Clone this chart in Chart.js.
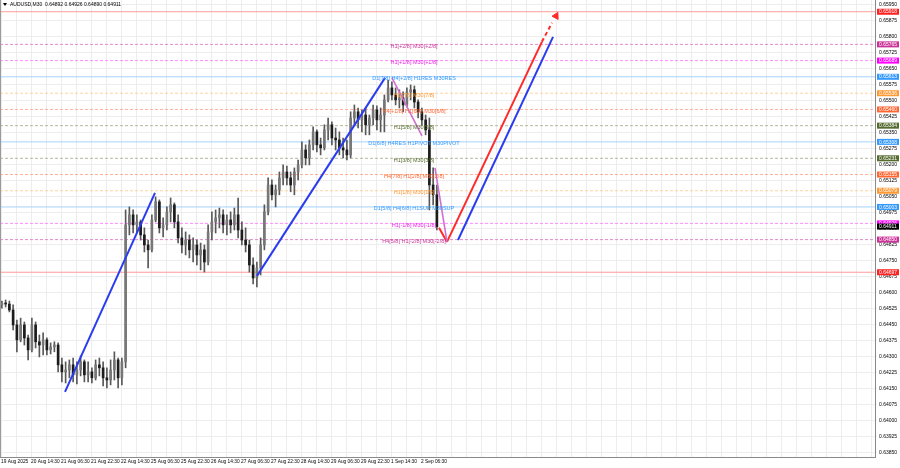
<!DOCTYPE html>
<html><head><meta charset="utf-8">
<script src="https://cdn.jsdelivr.net/npm/chart.js@4.4.1/dist/chart.umd.min.js"></script>
<style>html,body{margin:0;padding:0;background:#fff;}#wrap{width:900px;height:468px;position:relative;}</style>
</head><body><div id="wrap"><canvas id="c" width="900" height="468"></canvas></div>
<script>
const symbolTitle = 'AUDUSD,M30  0.64892 0.64926 0.64890 0.64911';
const timeLabels = ['19 Aug 2025','20 Aug 14:30','21 Aug 06:30','21 Aug 22:30','22 Aug 14:30','25 Aug 06:30','25 Aug 22:30','26 Aug 14:30','27 Aug 06:30','27 Aug 22:30','28 Aug 14:30','29 Aug 06:30','29 Aug 22:30','1 Sep 14:30','2 Sep 06:30'];
const priceTicks = [0.63850,0.63925,0.64000,0.64075,0.64150,0.64225,0.64300,0.64375,0.64450,0.64525,0.64600,0.64675,0.64750,0.64825,0.64900,0.64975,0.65050,0.65125,0.65200,0.65275,0.65350,0.65425,0.65500,0.65575,0.65650,0.65725,0.65800,0.65875,0.65950];

const opens = [0.64544,0.64553,0.64548,0.64520,0.64450,0.64380,0.64450,0.64389,0.64333,0.64450,
0.64371,0.64356,0.64380,0.64333,0.64347,0.64356,0.64263,0.64230,0.64239,0.64263,
0.64216,0.64239,0.64277,0.64216,0.64230,0.64202,0.64263,0.64249,0.64202,0.64192,
0.64239,0.64286,0.64202,0.64277,0.64919,0.64966,0.64919,0.64933,0.64872,0.64825,
0.64802,0.64942,0.65027,0.64905,0.64919,0.64980,0.65013,0.64933,0.64858,0.64825,
0.64848,0.64802,0.64825,0.64778,0.64802,0.64745,0.64886,0.64933,0.64952,0.64966,
0.64919,0.64942,0.64919,0.64966,0.64895,0.64848,0.64825,0.64731,0.64670,0.64717,
0.64825,0.64980,0.65106,0.65060,0.65083,0.65139,0.65167,0.65139,0.65106,0.65167,
0.65200,0.65270,0.65233,0.65294,0.65355,0.65294,0.65280,0.65364,0.65388,0.65326,
0.65317,0.65280,0.65270,0.65247,0.65420,0.65449,0.65411,0.65434,0.65388,0.65420,
0.65458,0.65411,0.65434,0.65505,0.65561,0.65528,0.65505,0.65514,0.65481,0.65542,
0.65552,0.65495,0.65449,0.65411,0.65364,0.65106,0.65060];
const highs = [0.64562,0.64567,0.64562,0.64544,0.64473,0.64482,0.64464,0.64403,0.64482,0.64464,
0.64403,0.64413,0.64389,0.64366,0.64371,0.64366,0.64295,0.64277,0.64286,0.64295,
0.64277,0.64305,0.64286,0.64277,0.64249,0.64286,0.64295,0.64277,0.64249,0.64286,
0.64324,0.64295,0.64295,0.64989,0.65003,0.64989,0.64966,0.64942,0.64905,0.64848,
0.64966,0.65050,0.65036,0.64952,0.65003,0.65045,0.65022,0.64966,0.64905,0.64886,
0.64872,0.64858,0.64848,0.64834,0.64825,0.64919,0.64980,0.64989,0.64998,0.64989,
0.64966,0.64980,0.64998,0.65045,0.64933,0.64905,0.64848,0.64764,0.64745,0.64858,
0.65013,0.65139,0.65130,0.65106,0.65167,0.65200,0.65195,0.65167,0.65186,0.65223,
0.65308,0.65294,0.65317,0.65378,0.65364,0.65326,0.65388,0.65420,0.65402,0.65373,
0.65355,0.65326,0.65317,0.65449,0.65481,0.65467,0.65458,0.65467,0.65434,0.65481,
0.65477,0.65467,0.65528,0.65598,0.65589,0.65561,0.65552,0.65542,0.65561,0.65575,
0.65570,0.65505,0.65467,0.65434,0.65420,0.65186,0.65106];
const lows = [0.64529,0.64534,0.64511,0.64427,0.64324,0.64371,0.64356,0.64286,0.64324,0.64342,
0.64300,0.64309,0.64309,0.64314,0.64324,0.64230,0.64183,0.64178,0.64202,0.64183,
0.64173,0.64211,0.64183,0.64183,0.64178,0.64192,0.64211,0.64164,0.64155,0.64169,
0.64192,0.64155,0.64169,0.64249,0.64872,0.64881,0.64881,0.64848,0.64792,0.64717,
0.64792,0.64933,0.64881,0.64863,0.64895,0.64933,0.64905,0.64834,0.64788,0.64778,
0.64764,0.64745,0.64731,0.64708,0.64698,0.64731,0.64848,0.64881,0.64905,0.64881,
0.64872,0.64881,0.64895,0.64858,0.64825,0.64792,0.64698,0.64642,0.64628,0.64684,
0.64802,0.64966,0.65036,0.65003,0.65060,0.65106,0.65106,0.65074,0.65060,0.65130,
0.65186,0.65200,0.65200,0.65270,0.65261,0.65247,0.65270,0.65317,0.65294,0.65270,
0.65247,0.65233,0.65223,0.65233,0.65388,0.65373,0.65355,0.65341,0.65341,0.65388,
0.65364,0.65355,0.65355,0.65495,0.65505,0.65481,0.65467,0.65449,0.65472,0.65505,
0.65467,0.65420,0.65388,0.65341,0.64989,0.65013,0.64895];
const closes = [0.64553,0.64548,0.64520,0.64450,0.64380,0.64450,0.64389,0.64333,0.64450,0.64371,
0.64356,0.64380,0.64333,0.64347,0.64356,0.64263,0.64230,0.64239,0.64263,0.64216,
0.64239,0.64277,0.64216,0.64230,0.64202,0.64263,0.64249,0.64202,0.64192,0.64239,
0.64286,0.64202,0.64277,0.64919,0.64966,0.64919,0.64933,0.64872,0.64825,0.64802,
0.64942,0.65027,0.64905,0.64919,0.64980,0.65013,0.64933,0.64858,0.64825,0.64848,
0.64802,0.64825,0.64778,0.64802,0.64745,0.64886,0.64933,0.64952,0.64966,0.64919,
0.64942,0.64919,0.64966,0.64895,0.64848,0.64825,0.64731,0.64670,0.64717,0.64825,
0.64980,0.65106,0.65060,0.65083,0.65139,0.65167,0.65139,0.65106,0.65167,0.65200,
0.65270,0.65233,0.65294,0.65355,0.65294,0.65280,0.65364,0.65388,0.65326,0.65317,
0.65280,0.65270,0.65247,0.65420,0.65449,0.65411,0.65434,0.65388,0.65420,0.65458,
0.65411,0.65434,0.65505,0.65561,0.65528,0.65505,0.65514,0.65481,0.65542,0.65552,
0.65495,0.65449,0.65411,0.65364,0.65106,0.65060,0.64911];

const levelPrices = [0.65918,0.65765,0.65689,0.65613,0.65536,0.65460,0.65384,0.65308,0.65231,0.65155,0.65079,0.65003,0.64926,0.64850,0.64697];
const levelNames = ['','H1[+2/8] M30[+2/8]','H1[+1/8] M30[+1/8]','D1[7/8] H4[+2/8] H1RES M30RES','H1[7/8] M30[7/8]','H4[+1/8] H1[6/8] M30[6/8]','H1[5/8] M30[5/8]','D1[6/8] H4RES H1PIVOT M30PIVOT','H1[3/8] M30[3/8]','H4[7/8] H1[2/8] M30[2/8]','H1[1/8] M30[1/8]','D1[5/8] H4[6/8] H1SUP M30SUP','H1[-1/8] M30[-1/8]','H4[5/8] H1[-2/8] M30[-2/8]',''];
const levelKinds = ['red','violet','magenta','blue','orange','orangered','olive','blue','olive','orangered','orange','blue','magenta','violet','red'];
const currentPrice = 0.64911;

// trend / projection lines: [barSlot, price] pairs
const blueLines = [[[17.33,0.64136],[41.33,0.65069]],[[68.53,0.64680],[102.67,0.65608]],[[122.13,0.64848],[147.47,0.65800]]];
const violetLines = [[[104.53,0.65608],[112.53,0.65336]],[[116.0,0.65186],[119.2,0.64839]]];
const redLines = [[[117.07,0.64905],[119.2,0.64839]],[[119.2,0.64839],[144.5,0.65777]]];
const redDashLine = [[144.5,0.65777],[147.2,0.65866]];
const redArrowTip = [148.27,0.65898];

const X_MAX = 233.33;
const LABEL_SLOT = 110.4;
const STY = {
  red:{line:'#ff9a9a',dash:[],box:'#ff2020',text:'#ff2020'},
  violet:{line:'#e58acb',dash:[3,2],box:'#cc3399',text:'#cc3399'},
  magenta:{line:'#ff8cff',dash:[3,2],box:'#ff00ff',text:'#f020f0'},
  blue:{line:'#a6d2ff',dash:[],box:'#3399ff',text:'#3399ff'},
  orange:{line:'#ffd2a0',dash:[3,2],box:'#ff9933',text:'#ff9933'},
  orangered:{line:'#ffb199',dash:[3,2],box:'#ff6633',text:'#ff6633'},
  olive:{line:'#b4b89c',dash:[3,2],box:'#556b2f',text:'#556b2f'}
};
const FONT = '"Liberation Sans", Arial, sans-serif';

const datasets = [];
levelPrices.forEach((p,i)=>{
  const s = STY[levelKinds[i]];
  datasets.push({type:'line',data:[{x:0,y:p},{x:X_MAX,y:p}],borderColor:s.line,borderWidth:1,borderDash:s.dash,pointRadius:0,order:20});
});
datasets.push({type:'bar',data:closes.map((c,i)=>({x:i+0.5,y:[lows[i],highs[i]]})),backgroundColor:'#585858',barThickness:1,grouped:false,order:10});
datasets.push({type:'bar',data:closes.map((c,i)=>({x:i+0.5,y:[opens[i],c]})),backgroundColor:closes.map((c,i)=>c>=opens[i]?'#777777':'#1c1c1c'),barThickness:2,grouped:false,order:9});
const addLine=(pts,color,w,dash)=>datasets.push({type:'line',data:pts.map(p=>({x:p[0],y:p[1]})),borderColor:color,borderWidth:w,borderDash:dash||[],pointRadius:0,order:1});
blueLines.forEach(l=>addLine(l,'#2a3cf0',2));
violetLines.forEach(l=>addLine(l,'#d070d0',1.6));
redLines.forEach(l=>addLine(l,'#ff2a2a',2));
addLine(redDashLine,'#ff2a2a',2,[4,3]);
datasets.push({type:'scatter',data:[{x:redArrowTip[0],y:redArrowTip[1]}],pointStyle:'triangle',rotation:28,radius:4,backgroundColor:'#ff2a2a',borderColor:'#ff2a2a',order:0});

const overlay = {
  id:'overlay',
  afterDatasetsDraw(chart){
    const {ctx,scales:{x,y}} = chart;
    ctx.save();
    ctx.font = '5.5px '+FONT; ctx.textAlign='center'; ctx.textBaseline='middle';
    levelPrices.forEach((p,i)=>{
      if(!levelNames[i]) return;
      ctx.fillStyle = STY[levelKinds[i]].text;
      ctx.fillText(levelNames[i], x.getPixelForValue(LABEL_SLOT), y.getPixelForValue(p)+2);
    });
    ctx.restore();
  },
  afterDraw(chart){
    const {ctx,scales:{y},chartArea} = chart;
    ctx.save();
    ctx.font = '5px '+FONT; ctx.textAlign='left'; ctx.textBaseline='middle';
    const box=(p,bg)=>{const py=y.getPixelForValue(p);ctx.fillStyle=bg;ctx.fillRect(chartArea.right+2,py-3,22,6);ctx.fillStyle='#fff';ctx.fillText(p.toFixed(5),chartArea.right+4,py+0.3);};
    levelPrices.forEach((p,i)=>box(p,STY[levelKinds[i]].box));
    box(currentPrice,'#000');
    ctx.fillStyle='#000'; ctx.font='5px '+FONT;
    ctx.beginPath(); ctx.moveTo(3,3); ctx.lineTo(7,3); ctx.lineTo(5,6); ctx.closePath(); ctx.fill();
    ctx.fillText(symbolTitle, 10, 5);
    ctx.strokeStyle='#9a9a9a'; ctx.lineWidth=1;
    ctx.beginPath(); ctx.moveTo(0.5,0); ctx.lineTo(0.5,chartArea.bottom); ctx.stroke();
    ctx.restore();
  }
};

const xTicks = [];
for(let v=0.27; v<X_MAX; v+=4) xTicks.push(v);
const noPad = (ax)=>{ax.paddingTop=0;ax.paddingBottom=0;ax.paddingLeft=0;ax.paddingRight=0;};

new Chart(document.getElementById('c'),{
  type:'line',
  data:{datasets},
  options:{
    responsive:false, animation:false, devicePixelRatio:1,
    layout:{padding:0, autoPadding:false},
    plugins:{legend:{display:false},tooltip:{enabled:false}},
    scales:{
      x:{type:'linear',position:'bottom',min:0,max:X_MAX,offset:false,
        grid:{color:'#ededed',drawTicks:false,offset:false},
        border:{color:'#8a8a8a'},
        afterBuildTicks:(ax)=>{ax.ticks=xTicks.map(v=>({value:v}));},
        afterFit:(ax)=>{ax.height=11;noPad(ax);},
        ticks:{autoSkip:false,maxRotation:0,align:'start',padding:2,color:'#000',font:{size:4.8,family:FONT},
          callback:(v,i)=>{ if(i%2) return ''; const k=i/2; return k<timeLabels.length?timeLabels[k]:''; }}
      },
      y:{type:'linear',position:'right',min:0.63831,max:0.65973,
        grid:{color:'#ededed',drawTicks:true,tickLength:2},
        border:{color:'#8a8a8a'},
        afterBuildTicks:(ax)=>{ax.ticks=priceTicks.map(v=>({value:v}));},
        afterFit:(ax)=>{ax.width=25;noPad(ax);},
        ticks:{padding:2,color:'#000',font:{size:5,family:FONT},callback:(v)=>Number(v).toFixed(5)}
      }
    }
  },
  plugins:[overlay]
});
</script></body></html>
